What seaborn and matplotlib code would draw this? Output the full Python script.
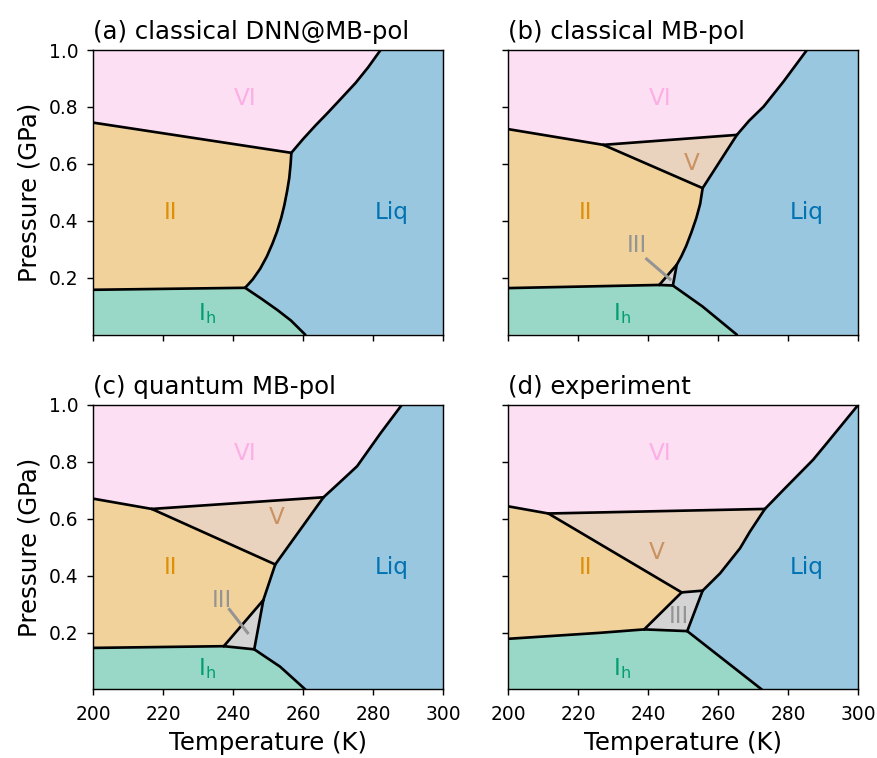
import matplotlib
matplotlib.use("Agg")
import matplotlib.pyplot as plt
import seaborn as sns

# ---------------- data (T in K, P in GPa) ----------------
TITLES = ["(a) classical DNN@MB-pol", "(b) classical MB-pol",
          "(c) quantum MB-pol", "(d) experiment"]
XTICKS = [200, 220, 240, 260, 280, 300]
YTICKS = [0.2, 0.4, 0.6, 0.8, 1.0]

# panel (a)
A_VI_II = [(200, 0.745), (256.6, 0.639)]
A_VI_LIQ = [(256.6, 0.639), (260.0, 0.688), (263.5, 0.735), (267.2, 0.782),
            (271.0, 0.832), (275.0, 0.885), (278.6, 0.940), (282.1, 1.0)]
A_II_LIQ = [(256.6, 0.639), (256.4, 0.600), (256.0, 0.550), (255.4, 0.505),
            (254.6, 0.455), (253.7, 0.410), (252.5, 0.362), (251.2, 0.320),
            (249.6, 0.275), (247.7, 0.232), (245.6, 0.195), (243.4, 0.165)]
A_II_IH = [(200, 0.158), (243.4, 0.165)]
A_IH_LIQ = [(243.4, 0.165), (248.0, 0.127), (252.5, 0.088), (256.5, 0.050), (260.6, 0.0)]

# panel (b)
B_VI_II = [(200, 0.722), (227.1, 0.667)]
B_VI_V = [(227.1, 0.667), (265.3, 0.702)]
B_II_V = [(227.1, 0.667), (255.5, 0.515)]
B_V_LIQ = [(255.5, 0.515), (265.3, 0.702)]
B_VI_LIQ = [(265.3, 0.702), (268.8, 0.752), (272.9, 0.801), (278.6, 0.889), (285.3, 1.0)]
B_II_LIQ = [(255.5, 0.515), (254.8, 0.460), (253.7, 0.410), (252.3, 0.360),
            (250.8, 0.312), (249.4, 0.275), (248.1, 0.246)]
B_II_III = [(248.1, 0.246), (243.1, 0.175)]
B_III_LIQ = [(248.1, 0.246), (247.0, 0.173)]
B_II_IH = [(200, 0.164), (243.1, 0.175)]
B_III_IH = [(243.1, 0.175), (247.0, 0.173)]
B_IH_LIQ = [(247.0, 0.173), (255.5, 0.099), (265.3, 0.0)]

# panel (c)
C_VI_II = [(200, 0.670), (216.7, 0.634)]
C_VI_V = [(216.7, 0.634), (265.8, 0.675)]
C_II_V = [(216.7, 0.634), (252.0, 0.439)]
C_V_LIQ = [(252.0, 0.439), (265.8, 0.675)]
C_VI_LIQ = [(265.8, 0.675), (270.5, 0.728), (275.4, 0.784), (282.1, 0.9), (288.2, 1.0)]
C_II_LIQ = [(252.0, 0.439), (248.6, 0.314)]
C_II_III = [(248.6, 0.314), (237.3, 0.152)]
C_III_LIQ = [(248.6, 0.314), (246.0, 0.141)]
C_II_IH = [(200, 0.146), (237.3, 0.152)]
C_III_IH = [(237.3, 0.152), (246.0, 0.141)]
C_IH_LIQ = [(246.0, 0.141), (253.4, 0.08), (260.6, 0.0)]

# panel (d)
D_VI_II = [(200, 0.643), (211.4, 0.618)]
D_VI_V = [(211.4, 0.618), (273.3, 0.634)]
D_II_V = [(211.4, 0.618), (249.5, 0.341)]
D_V_III = [(249.5, 0.341), (255.5, 0.347)]
D_V_LIQ = [(255.5, 0.347), (260.5, 0.408), (266.2, 0.496), (269.0, 0.554), (273.3, 0.634)]
D_VI_LIQ = [(273.3, 0.634), (278.6, 0.701), (287.1, 0.807), (291.0, 0.865), (300, 1.0)]
D_II_III = [(249.5, 0.341), (238.8, 0.211)]
D_III_LIQ = [(255.5, 0.347), (251.1, 0.205)]
D_II_IH = [(200, 0.178), (226.2, 0.199), (238.8, 0.211)]
D_III_IH = [(238.8, 0.211), (251.1, 0.205)]
D_IH_LIQ = [(251.1, 0.205), (272.4, 0.0)]

# label positions
LBL_VI = (243.4, 0.83)
LBL_II = (222.0, 0.43)
LBL_LIQ = (285.3, 0.43)
LBL_IH = (232.5, 0.075)
LBL_V = [None, (252.5, 0.60), (252.5, 0.605), (242.4, 0.48)]
LBL_III = [None, (236.7, 0.312), (236.7, 0.314), (248.6, 0.255)]
III_LEADER = [None, [(239.5, 0.266), (246.2, 0.195)], [(238.9, 0.281), (244.1, 0.199)], None]

# ---------------- helpers ----------------
def rev(s):
    return s[::-1]

def chain(*segs):
    out = []
    for s in segs:
        out.extend(s)
    return out

regions = [
    {  # a
        "VI": chain([(200, 1.0)], rev(A_VI_LIQ), rev(A_VI_II)),
        "II": chain(A_VI_II, A_II_LIQ, rev(A_II_IH)),
        "Ih": chain(A_II_IH, A_IH_LIQ, [(200, 0.0)]),
        "Liq": chain(A_VI_LIQ, [(300, 1.0), (300, 0.0)], rev(A_IH_LIQ), rev(A_II_LIQ)),
    },
    {  # b
        "VI": chain([(200, 1.0)], rev(B_VI_LIQ), rev(B_VI_V), rev(B_VI_II)),
        "V": chain(B_VI_V, rev(B_V_LIQ), rev(B_II_V)),
        "II": chain(B_VI_II, B_II_V, B_II_LIQ, B_II_III, rev(B_II_IH)),
        "III": chain(B_II_III, B_III_IH, rev(B_III_LIQ)),
        "Ih": chain(B_II_IH, B_III_IH, B_IH_LIQ, [(200, 0.0)]),
        "Liq": chain(B_VI_LIQ, [(300, 1.0), (300, 0.0)], rev(B_IH_LIQ), rev(B_III_LIQ),
                     rev(B_II_LIQ), B_V_LIQ),
    },
    {  # c
        "VI": chain([(200, 1.0)], rev(C_VI_LIQ), rev(C_VI_V), rev(C_VI_II)),
        "V": chain(C_VI_V, rev(C_V_LIQ), rev(C_II_V)),
        "II": chain(C_VI_II, C_II_V, C_II_LIQ, C_II_III, rev(C_II_IH)),
        "III": chain(C_II_III, C_III_IH, rev(C_III_LIQ)),
        "Ih": chain(C_II_IH, C_III_IH, C_IH_LIQ, [(200, 0.0)]),
        "Liq": chain(C_VI_LIQ, [(300, 1.0), (300, 0.0)], rev(C_IH_LIQ), rev(C_III_LIQ),
                     rev(C_II_LIQ), C_V_LIQ),
    },
    {  # d
        "VI": chain([(200, 1.0)], rev(D_VI_LIQ), rev(D_VI_V), rev(D_VI_II)),
        "V": chain(D_VI_V, rev(D_V_LIQ), rev(D_V_III), rev(D_II_V)),
        "II": chain(D_VI_II, D_II_V, D_II_III, rev(D_II_IH)),
        "III": chain(D_V_III, D_III_LIQ, rev(D_III_IH), rev(D_II_III)),
        "Ih": chain(D_II_IH, D_III_IH, D_IH_LIQ, [(200, 0.0)]),
        "Liq": chain(D_VI_LIQ, [(300, 0.0)], rev(D_IH_LIQ), rev(D_III_LIQ), D_V_LIQ),
    },
]

boundaries = [
    [A_VI_II, A_VI_LIQ, A_II_LIQ, A_II_IH, A_IH_LIQ],
    [B_VI_II, B_VI_V, B_II_V, B_V_LIQ, B_VI_LIQ, B_II_LIQ, B_II_III, B_III_LIQ,
     B_II_IH, B_III_IH, B_IH_LIQ],
    [C_VI_II, C_VI_V, C_II_V, C_V_LIQ, C_VI_LIQ, C_II_LIQ, C_II_III, C_III_LIQ,
     C_II_IH, C_III_IH, C_IH_LIQ],
    [D_VI_II, D_VI_V, D_II_V, D_V_III, D_V_LIQ, D_VI_LIQ, D_II_III, D_III_LIQ,
     D_II_IH, D_III_IH, D_IH_LIQ],
]

pal = sns.color_palette("colorblind")
COL = {"Liq": pal[0], "II": pal[1], "Ih": pal[2], "V": pal[5], "VI": pal[6], "III": pal[7]}

# ---------------- figure ----------------
DPI = 128
fig, axes = plt.subplots(2, 2, figsize=(877 / DPI, 758 / DPI), dpi=DPI)
fig.subplots_adjust(left=0.1064, right=0.9787, top=0.934, bottom=0.0904,
                    wspace=0.1866, hspace=0.2456)

FS = 13
FS_LAB = 13.7
for i, ax in enumerate(axes.flat):
    for name, poly in regions[i].items():
        xs = [p[0] for p in poly]
        ys = [p[1] for p in poly]
        ax.fill(xs, ys, color=COL[name], alpha=0.4, lw=0, zorder=1)
    for seg in boundaries[i]:
        sns.lineplot(x=[p[0] for p in seg], y=[p[1] for p in seg], sort=False,
                     estimator=None, color="black", lw=1.5, ax=ax, zorder=3,
                     solid_capstyle="round", solid_joinstyle="round")
    ax.text(*LBL_VI, "VI", color=COL["VI"], fontsize=FS, ha="center", va="center", zorder=4)
    ax.text(*LBL_II, "II", color=COL["II"], fontsize=FS, ha="center", va="center", zorder=4)
    ax.text(*LBL_LIQ, "Liq", color=COL["Liq"], fontsize=FS, ha="center", va="center", zorder=4)
    ax.text(*LBL_IH, r"$\mathregular{I_h}$", color=COL["Ih"], fontsize=FS,
            ha="center", va="center", zorder=4)
    if LBL_V[i] is not None:
        ax.text(*LBL_V[i], "V", color=COL["V"], fontsize=FS, ha="center", va="center", zorder=4)
    if LBL_III[i] is not None:
        ax.text(*LBL_III[i], "III", color=COL["III"], fontsize=FS, ha="center",
                va="center", zorder=4)
    if III_LEADER[i] is not None:
        seg = III_LEADER[i]
        ax.plot([p[0] for p in seg], [p[1] for p in seg], color=COL["III"], lw=1.7, zorder=4)

    ax.set_xlim(200, 300)
    ax.set_ylim(0, 1.0)
    ax.set_xticks(XTICKS)
    ax.set_yticks(YTICKS)
    ax.set_title(TITLES[i], loc="left", fontsize=FS_LAB)
    ax.tick_params(labelsize=10.5, pad=5)
    ax.set_xlabel("")
    ax.set_ylabel("")
    if i % 2 == 0:
        ax.set_ylabel("Pressure (GPa)", fontsize=FS_LAB)
    else:
        ax.tick_params(labelleft=False)
    if i >= 2:
        ax.set_xlabel("Temperature (K)", fontsize=FS_LAB)
    else:
        ax.tick_params(labelbottom=False)
    for sp in ax.spines.values():
        sp.set_zorder(5)

fig.savefig("out.png", dpi=DPI)
